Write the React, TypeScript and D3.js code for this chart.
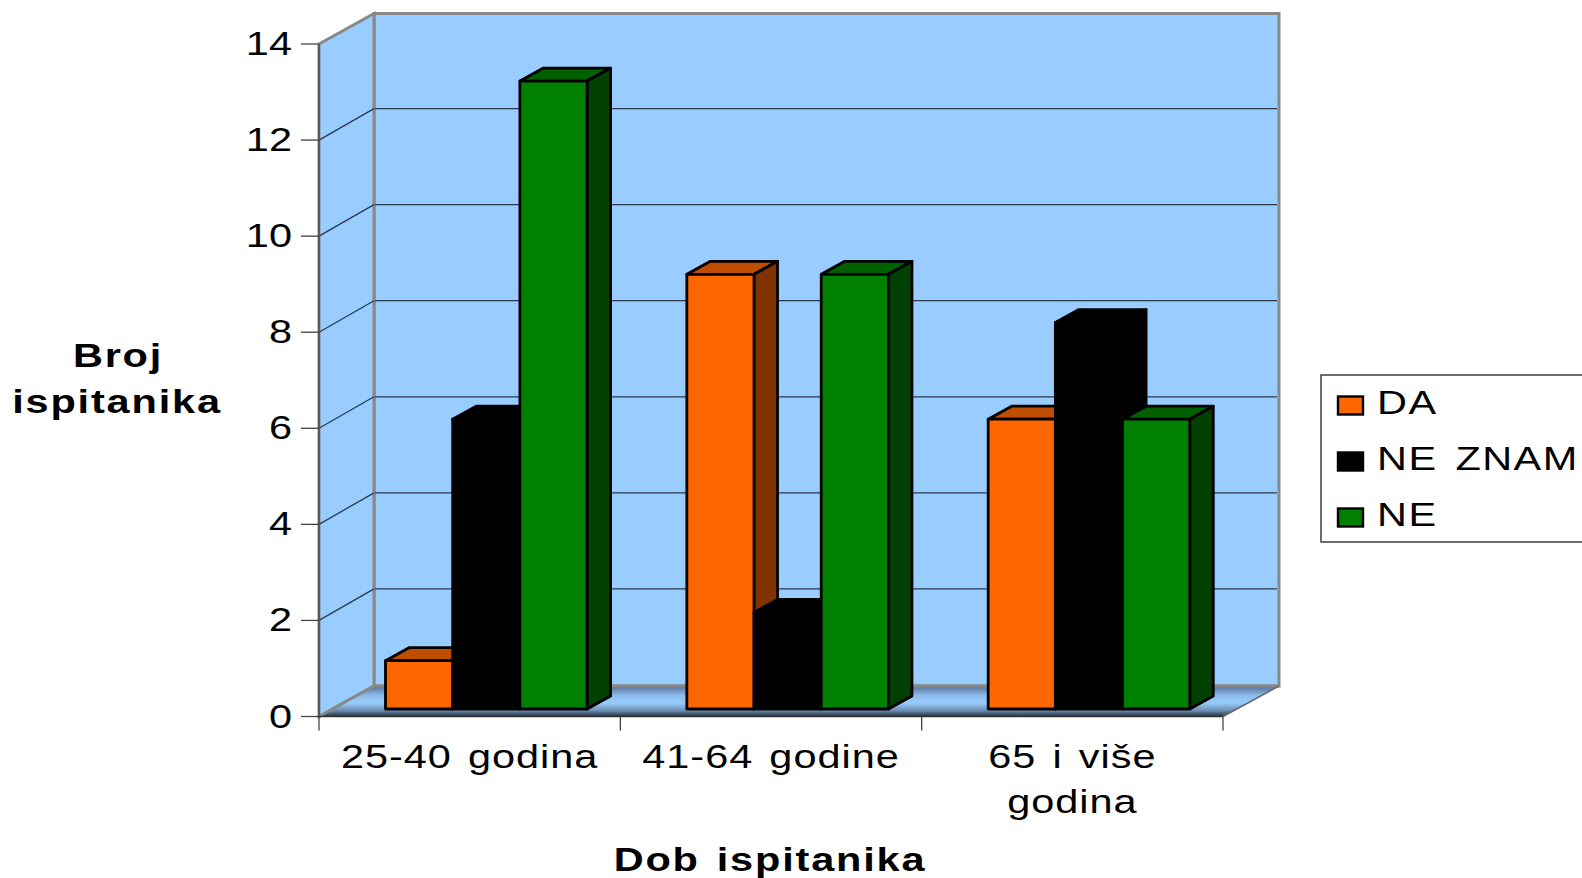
import React from "react";
import * as d3 from "d3";

const categories = ["25-40 godina", "41-64 godine", "65 i više godina"];
const categoryLines = [["25-40 godina"], ["41-64 godine"], ["65 i više", "godina"]];
const seriesNames = ["DA", "NE ZNAM", "NE"];
const da = [1, 9, 6];
const neZnam = [6, 2, 8];
const ne = [13, 9, 6];
const seriesValues = [da, neZnam, ne];
const front = ["#FF6600", "#000000", "#008000"];
const side = ["#803300", "#000000", "#004000"];
const top = ["#BF4D00", "#000000", "#006000"];
const yTicks = [0, 2, 4, 6, 8, 10, 12, 14];

const FONT = "'Liberation Sans', Arial, sans-serif";
const SX = 1.22;

const x0 = d3.scaleBand<string>().domain(categories).range([319, 1223]);
const y = d3.scaleLinear().domain([0, 14]).range([716.5, 44]);
const yBar = d3.scaleLinear().domain([0, 14]).range([709, 32.8]);
const DX = 55;
const DXR = 56;
const DY = -30.5;
const BAR_W = 67.2;
const BAR_OFF = 66.5;
const BDX = 23.5;
const BDY = -13;

function T({ x, y, text, anchor = "middle", size = 34, bold = false, sx = SX, ls = 0.8, ws = 3 }: any) {
  return (
    <text
      transform={`translate(${x},${y}) scale(${sx},1)`}
      textAnchor={anchor}
      fontFamily={FONT}
      fontSize={size}
      fontWeight={bold ? "bold" : "normal"}
      letterSpacing={ls}
      wordSpacing={ws}
      fill="#000"
    >
      {text}
    </text>
  );
}

const pts = (a: number[][]) => a.map((p) => p.join(",")).join(" ");

export default function App() {
  const right = 1223;
  const y0 = y(0);
  const y14 = y(14);
  return (
    <svg width={1582} height={878} style={{ position: "absolute", left: 0, top: 0, background: "#fff" }}>
      <defs>
        <linearGradient id="floor" x1="0" y1="0" x2="0" y2="1">
          <stop offset="0" stopColor="#4F6E94" />
          <stop offset="0.3" stopColor="#8DB9E8" />
          <stop offset="0.55" stopColor="#99CCFF" />
          <stop offset="0.8" stopColor="#6E8FB3" />
          <stop offset="1" stopColor="#22303F" />
        </linearGradient>
      </defs>
      {/* walls */}
      <polygon
        points={pts([[319 + DX, y14 + DY], [right + DXR, y14 + DY], [right + DXR, y0 + DY], [319 + DX, y0 + DY]])}
        fill="#99CCFF"
        stroke="#888"
        strokeWidth={3}
      />
      <polygon
        points={pts([[319, y14], [319 + DX, y14 + DY], [319 + DX, y0 + DY], [319, y0]])}
        fill="#99CCFF"
        stroke="#888"
        strokeWidth={3}
      />
      <polygon
        points={pts([[319, y0], [319 + DX, y0 + DY], [right + DXR, y0 + DY], [right, y0]])}
        fill="url(#floor)"
      />
      <polyline points={pts([[319, y0], [319 + DX, y0 + DY], [right + DXR, y0 + DY]])} fill="none" stroke="#888" strokeWidth={3} />
      <polyline points={pts([[right, y0], [right + DXR, y0 + DY]])} stroke="#666" strokeWidth={1.5} />
      {/* grid */}
      {yTicks.slice(1, -1).map((t) => (
        <g key={t} stroke="#2b3a4a" strokeWidth={1.3} fill="none">
          <line x1={319} y1={y(t)} x2={319 + DX} y2={y(t) + DY - 1} />
          <line x1={319 + DX + 1} y1={y(t) + DY - 1} x2={right + DXR - 2} y2={y(t) + DY - 1} />
        </g>
      ))}
      {/* axes */}
      <line x1={319} y1={y14} x2={319} y2={y0} stroke="#555" strokeWidth={1.8} />
      <line x1={319} y1={y0} x2={right} y2={y0} stroke="#333" strokeWidth={1.5} />
      {yTicks.map((t) => (
        <g key={t}>
          <line x1={301} y1={y(t)} x2={319} y2={y(t)} stroke="#444" strokeWidth={1.3} />
          <T x={292} y={y(t) + 11} text={String(t)} anchor="end" ls={0} />
        </g>
      ))}
      {categories.map((c) => (
        <line key={c} x1={x0(c)!} y1={y0} x2={x0(c)!} y2={y0 + 14} stroke="#444" strokeWidth={1.3} />
      ))}
      <line x1={right} y1={y0} x2={right} y2={y0 + 14} stroke="#444" strokeWidth={1.3} />
      {/* bars */}
      {categories.map((c, ci) =>
        seriesValues.map((vals, si) => {
          const l = x0(c)! + BAR_OFF + si * BAR_W;
          const r = l + BAR_W;
          const t = yBar(vals[ci]);
          const b = yBar(0);
          return (
            <g key={c + si} stroke="#000" strokeWidth={2.8} strokeLinejoin="round">
              <polygon points={pts([[l, t], [l + BDX, t + BDY], [r + BDX, t + BDY], [r, t]])} fill={top[si]} />
              <polygon points={pts([[r, t], [r + BDX, t + BDY], [r + BDX, b + BDY], [r, b]])} fill={side[si]} />
              <rect x={l} y={t} width={BAR_W} height={b - t} fill={front[si]} />
            </g>
          );
        })
      )}
      {/* category labels */}
      {categories.map((c, i) => {
        const cx = x0(c)! + x0.bandwidth() / 2;
        return categoryLines[i].map((ln, j) => (
          <T key={ln} x={cx} y={768 + j * 45} text={ln} />
        ));
      })}
      <T x={770} y={871} text="Dob ispitanika" bold ls={1.5} />
      <T x={118} y={367} text="Broj" bold ls={1.5} />
      <T x={117} y={413} text="ispitanika" bold ls={1.5} />
      {/* legend */}
      <rect x={1321} y={375} width={270} height={167} fill="#fff" stroke="#222" strokeWidth={1.3} />
      {seriesNames.map((n, i) => (
        <g key={n}>
          <rect x={1338} y={396.5 + i * 56} width={25} height={18} fill={front[i]} stroke="#000" strokeWidth={2.4} />
          <T x={1377} y={414 + i * 56} text={n} anchor="start" ls={1.2} ws={4} />
        </g>
      ))}
    </svg>
  );
}
